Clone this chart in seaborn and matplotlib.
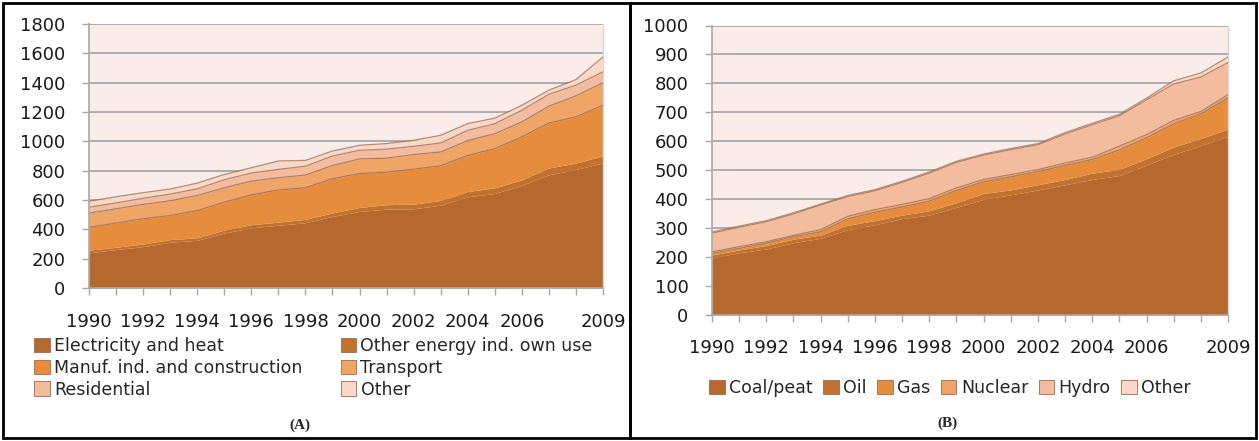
import numpy as np
import pandas as pd
import matplotlib
matplotlib.use("Agg")
import matplotlib.pyplot as plt
from matplotlib.patches import Patch, Rectangle
import seaborn as sns

# ---------------- data ----------------
years = list(range(1990, 2010))
xtick_labels = ["1990", "", "1992", "", "1994", "", "1996", "", "1998", "", "2000", "",
                "2002", "", "2004", "", "2006", "", "", "2009"]

# Panel A: by sector
sectors_a = ["Electricity and heat", "Other energy ind. own use", "Manuf. ind. and construction",
             "Transport", "Residential", "Other"]
electricity_heat = [240, 262, 282, 312, 325, 375, 410, 428, 445, 488, 522, 538, 540, 565, 622, 645, 700, 772, 808, 853]
other_energy_own = [18, 16, 18, 18, 17, 20, 22, 21, 23, 24, 27, 30, 32, 32, 36, 38, 38, 46, 44, 48]
manuf_construction = [156, 164, 172, 164, 186, 190, 203, 219, 215, 233, 231, 222, 238, 236, 246, 267, 292, 307, 314, 345]
transport = [96, 98, 98, 101, 103, 98, 94, 84, 87, 90, 100, 95, 100, 94, 101, 102, 102, 115, 144, 154]
residential = [41, 40, 42, 45, 45, 55, 55, 57, 60, 65, 59, 62, 56, 62, 70, 68, 80, 81, 73, 74]
other_sector = [41, 42, 38, 35, 39, 36, 36, 57, 40, 34, 34, 38, 41, 52, 46, 38, 34, 28, 38, 102]

# Panel B: by fuel
fuels_b = ["Coal/peat", "Oil", "Gas", "Nuclear", "Hydro", "Other"]
coal_peat = [197, 215, 228, 250, 265, 295, 312, 333, 345, 372, 400, 415, 432, 450, 468, 482, 518, 555, 585, 618]
oil = [10, 10, 12, 12, 11, 15, 14, 12, 15, 16, 20, 17, 18, 18, 22, 21, 22, 25, 25, 24]
gas = [6, 5, 8, 8, 11, 22, 29, 28, 33, 42, 40, 45, 45, 49, 47, 67, 72, 80, 85, 108]
nuclear = [5, 6, 5, 5, 8, 9, 9, 9, 9, 9, 8, 8, 7, 8, 8, 13, 11, 12, 8, 11]
hydro = [65, 67, 69, 74, 85, 68, 65, 76, 88, 88, 84, 86, 86, 100, 112, 105, 120, 126, 119, 111]
other_fuel = [4, 4, 4, 4, 3, 4, 4, 4, 4, 4, 4, 4, 4, 5, 5, 5, 6, 11, 14, 19]

# ---------------- style ----------------
colors = ["#B5692F", "#C2722F", "#E58D3D", "#EFA468", "#F4BC9E", "#F8D8C8"]
bg = "#FAEDE9"
grid_c = "#A8A8A8"
edge_c = "#9E6B4C"

sns.set_theme(style="white")
plt.rcParams["font.family"] = ["DejaVu Sans"]

W, H = 1259, 441
fig = plt.figure(figsize=(W / 100, H / 100), dpi=100)
fig.patch.set_facecolor("white")


def fx(px):
    return px / W


def fy(py):
    return 1 - py / H


def panel(rect, series, labels, ymax, ystep, xpad):
    ax = fig.add_axes(rect)
    ax.set_facecolor(bg)
    ax.set_axisbelow(True)
    ax.stackplot(years, *series, colors=colors, linewidth=0, zorder=2)
    cum = np.cumsum(np.array(series), axis=0)
    rows = []
    for i in range(2, len(series)):
        for yr, v in zip(years, cum[i]):
            rows.append({"year": yr, "value": v, "layer": labels[i] + str(i)})
    df = pd.DataFrame(rows)
    sns.lineplot(data=df, x="year", y="value", hue="layer", units="layer", estimator=None,
                 palette=[edge_c] * (len(series) - 2), legend=False, linewidth=0.9,
                 alpha=0.75, ax=ax, zorder=3)
    ax.set_xlim(years[0], years[-1])
    ax.set_ylim(0, ymax)
    ax.set_yticks(np.arange(0, ymax + 1, ystep))
    ax.set_xticks(years)
    ax.set_xticklabels(xtick_labels)
    ax.yaxis.grid(True, color=grid_c, linewidth=1.3, zorder=0.5)
    ax.set_xlabel("")
    ax.set_ylabel("")
    ax.spines["top"].set_visible(False)
    ax.spines["right"].set_color("#D8D8D8")
    ax.spines["right"].set_linewidth(1.0)
    for s in ["left", "bottom"]:
        ax.spines[s].set_color(grid_c)
        ax.spines[s].set_linewidth(1.2)
        ax.spines[s].set_zorder(4)
    ax.tick_params(axis="y", which="both", left=True, length=5, width=1, color=grid_c,
                   labelsize=13, labelcolor="#1a1a1a", pad=12)
    ax.tick_params(axis="x", which="both", bottom=True, length=5, width=1, color=grid_c,
                   labelsize=13, labelcolor="#1a1a1a", pad=xpad)
    return ax


ser_a = [electricity_heat, other_energy_own, manuf_construction, transport, residential, other_sector]
ser_b = [coal_peat, oil, gas, nuclear, hydro, other_fuel]

axA = panel([fx(89), fy(288), fx(603) - fx(89), fy(24) - fy(288)], ser_a, sectors_a, 1800, 200, 13)
axB = panel([fx(712), fy(315), fx(1228) - fx(712), fy(25.5) - fy(315)], ser_b, fuels_b, 1000, 100, 12)

# Legends
hA = [Patch(facecolor=colors[i], edgecolor=edge_c, linewidth=0.6) for i in range(6)]
order = [0, 2, 4, 1, 3, 5]
fig.legend([hA[i] for i in order], [sectors_a[i] for i in order], ncol=2,
           loc="upper left", bbox_to_anchor=(fx(34), fy(337)), frameon=False,
           fontsize=12.5, handlelength=0.9, handleheight=0.9, handletextpad=0.25,
           columnspacing=2.2, labelspacing=0.22, borderpad=0, borderaxespad=0)

hB = [Patch(facecolor=colors[i], edgecolor=edge_c, linewidth=0.6) for i in range(6)]
fig.legend(hB, fuels_b, ncol=6, loc="center", bbox_to_anchor=(fx(950), fy(388)),
           frameon=False, fontsize=12.5, handlelength=0.9, handleheight=0.9,
           handletextpad=0.25, columnspacing=0.6, borderpad=0, borderaxespad=0)

# Panel captions
fig.text(fx(300), fy(425), "(A)", ha="center", va="center", fontsize=11,
         fontweight="bold", family="Liberation Serif")
fig.text(fx(947), fy(423), "(B)", ha="center", va="center", fontsize=11,
         fontweight="bold", family="Liberation Serif")

# Outer borders
for x0, x1 in [(3, 630), (630, 1256)]:
    fig.add_artist(Rectangle((fx(x0), fy(438)), fx(x1) - fx(x0), fy(3) - fy(438),
                             transform=fig.transFigure, fill=False, edgecolor="black",
                             linewidth=2))

fig.savefig("out.png", dpi=100)
